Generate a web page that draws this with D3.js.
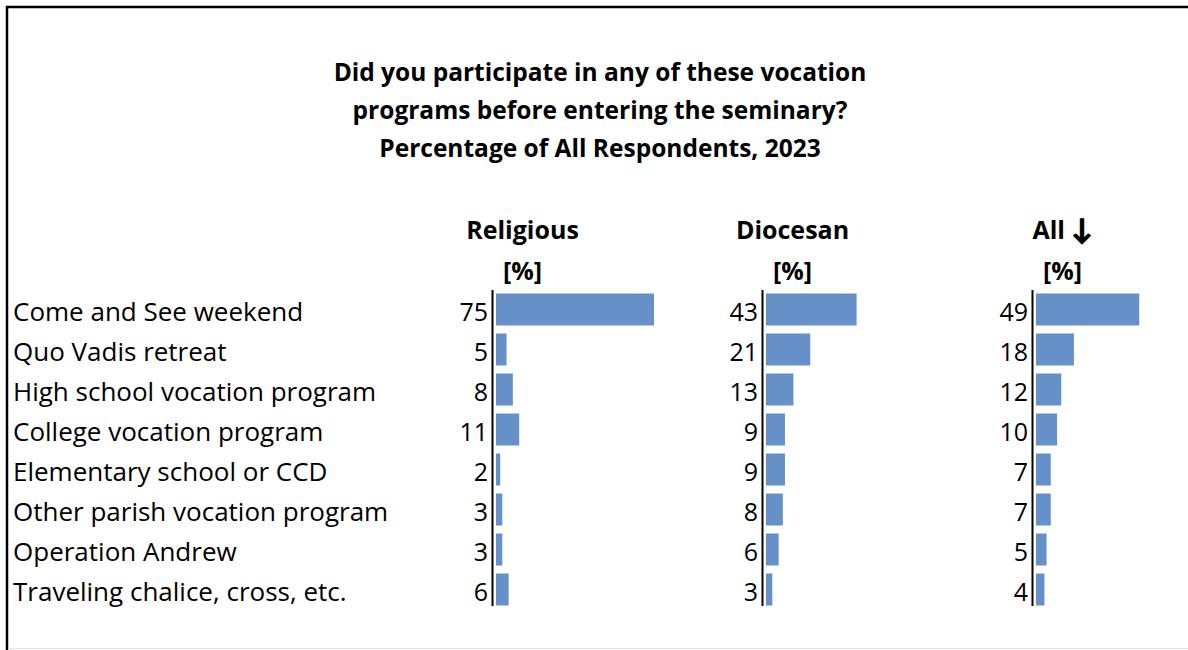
<!DOCTYPE html>
<html>
<head>
<meta charset="utf-8">
<script src="https://cdn.jsdelivr.net/npm/d3@7"></script>
<style>
  html, body { margin: 0; padding: 0; background: #fff; }
  svg { display: block; }
  text { font-family: "Open Sans", Lato, sans-serif; fill: #000; }
</style>
</head>
<body>
<svg id="chart" width="1188" height="650"></svg>
<script>
// ---- data ----
const categories = [
  "Come and See weekend",
  "Quo Vadis retreat",
  "High school vocation program",
  "College vocation program",
  "Elementary school or CCD",
  "Other parish vocation program",
  "Operation Andrew",
  "Traveling chalice, cross, etc."
];
const seriesNames = ["Religious", "Diocesan", "All \u2193"];
const religious = [75, 5, 8, 11, 2, 3, 3, 6];
const diocesan = [43, 21, 13, 9, 9, 8, 6, 3];
const allRespondents = [49, 18, 12, 10, 7, 7, 5, 4];
const unitLabel = "[%]";
const titleLines = [
  "Did you participate in any of these vocation",
  "programs before entering the seminary?",
  "Percentage of All Respondents, 2023"
];

const series = [religious, diocesan, allRespondents];

const svg = d3.select("#chart");
const W = 1188, H = 650;

svg.append("rect").attr("width", W).attr("height", H).attr("fill", "#fff");

// frame
svg.append("line").attr("x1", 6).attr("x2", W).attr("y1", 7).attr("y2", 7)
  .attr("stroke", "#000").attr("stroke-width", 2.5);
svg.append("line").attr("x1", 7).attr("x2", 7).attr("y1", 6).attr("y2", H)
  .attr("stroke", "#000").attr("stroke-width", 2.5);
svg.append("line").attr("x1", 8).attr("x2", W).attr("y1", 648.5).attr("y2", 648.5)
  .attr("stroke", "#e3e3e3").attr("stroke-width", 1);

// title
svg.append("g").selectAll("text").data(titleLines).join("text")
  .attr("x", 600)
  .attr("y", (d, i) => 81 + i * 38)
  .attr("text-anchor", "middle")
  .attr("font-weight", 700)
  .attr("font-size", 24.5)
  .text(d => d);

// scales
const y = d3.scaleBand().domain(categories).range([289.5, 609.5])
  .paddingInner(0.2).paddingOuter(0.1);
const x = d3.scaleLinear().domain([0, 75]).range([0, 158]);
const panelX = d3.scalePoint().domain(seriesNames).range([492.5, 1032.5]);

// clip for category labels
svg.append("clipPath").attr("id", "plotclip")
  .append("rect").attr("x", 0).attr("y", 0).attr("width", W).attr("height", 607);

// category labels
svg.append("g").attr("clip-path", "url(#plotclip)")
  .selectAll("text").data(categories).join("text")
  .attr("x", 13)
  .attr("y", d => y(d) + y.bandwidth() / 2 + 11.5)
  .attr("font-size", 26)
  .text(d => d);

// panels
seriesNames.forEach((name, si) => {
  const ax = panelX(name);
  const g = svg.append("g");
  const vals = series[si];

  const head = g.append("text")
    .attr("x", ax + 30).attr("y", 239)
    .attr("text-anchor", "middle").attr("font-weight", 700).attr("font-size", 25);
  const parts = name.split(" ");
  if (parts.length > 1 && parts[1] === "\u2193") {
    head.append("tspan").text(parts[0] + " ");
    head.append("tspan").attr("font-size", 28)
      .attr("stroke", "#000").attr("stroke-width", 1.2)
      .text(parts[1]);
  } else {
    head.text(name);
  }
  g.append("text")
    .attr("x", ax + 30).attr("y", 280)
    .attr("text-anchor", "middle").attr("font-weight", 700).attr("font-size", 25)
    .text(unitLabel);

  g.selectAll("rect.bar").data(categories).join("rect")
    .attr("class", "bar")
    .attr("x", ax + 3.5)
    .attr("y", d => y(d))
    .attr("width", (d, i) => x(vals[i]))
    .attr("height", y.bandwidth())
    .attr("fill", "#6690c8");

  g.selectAll("text.val").data(categories).join("text")
    .attr("class", "val")
    .attr("x", ax - 4.5)
    .attr("y", d => y(d) + y.bandwidth() / 2 + 11.5)
    .attr("text-anchor", "end")
    .attr("font-size", 25)
    .text((d, i) => vals[i]);

  g.append("line")
    .attr("x1", ax).attr("x2", ax)
    .attr("y1", 290).attr("y2", 606)
    .attr("stroke", "#000").attr("stroke-width", 2);
});
</script>
</body>
</html>
